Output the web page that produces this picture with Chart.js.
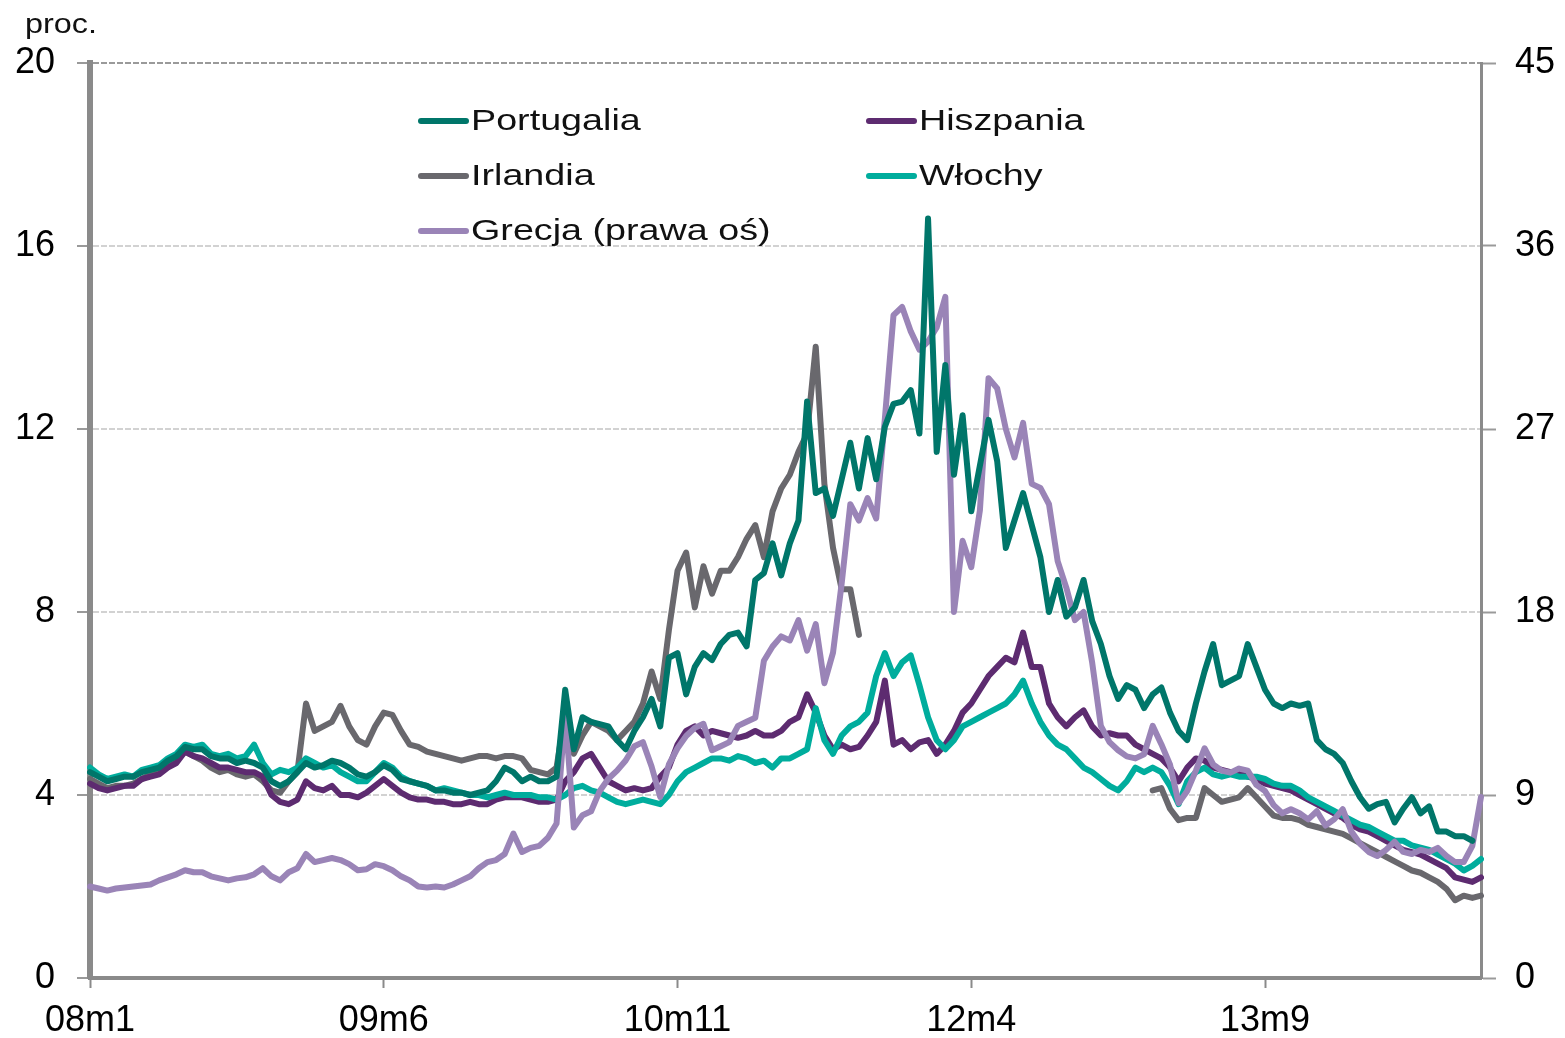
<!DOCTYPE html>
<html>
<head>
<meta charset="utf-8">
<script src="https://cdn.jsdelivr.net/npm/chart.js@4.4.1/dist/chart.umd.min.js"></script>
<style>
  body { margin: 0; background: #fff; }
  canvas { display: block; }
</style>
</head>
<body>
<canvas id="spreadChart" width="1565" height="1038"></canvas>
<script>
// rentowności obligacji 10-letnich, dane półmiesięczne od 08m1
const xTickIdx = [0, 34, 68, 102, 136];
const xTickLabels = ["08m1", "09m6", "10m11", "12m4", "13m9"];
const leftTicks = [0, 4, 8, 12, 16, 20];
const rightTicks = [0, 9, 18, 27, 36, 45];

const portugalia = [
  4.5,4.4,4.3,4.35,4.4,4.4,4.5,4.55,4.6,4.75,
  4.85,5.05,5.0,5.0,4.85,4.8,4.8,4.7,4.75,4.7,
  4.6,4.3,4.2,4.3,4.5,4.7,4.6,4.65,4.75,4.7,
  4.6,4.45,4.4,4.5,4.65,4.55,4.35,4.3,4.25,4.2,
  4.1,4.1,4.05,4.05,4.0,4.05,4.1,4.3,4.6,4.5,
  4.3,4.4,4.3,4.3,4.4,6.3,5.0,5.7,5.6,5.55,
  5.5,5.2,5.0,5.4,5.7,6.1,5.5,7.0,7.1,6.2,
  6.8,7.1,6.95,7.3,7.5,7.55,7.25,8.7,8.85,9.5,
  8.8,9.5,10.0,12.6,10.6,10.7,10.1,10.9,11.7,10.7,
  11.8,10.9,12.05,12.55,12.6,12.85,11.9,16.6,11.5,13.4,
  11.0,12.3,10.2,11.2,12.2,11.3,9.4,10.0,10.6,9.9,
  9.2,8.0,8.7,7.9,8.1,8.7,7.8,7.3,6.6,6.1,
  6.4,6.3,5.9,6.2,6.35,5.8,5.4,5.2,6.0,6.7,
  7.3,6.4,6.5,6.6,7.3,6.8,6.3,6.0,5.9,6.0,
  5.95,6.0,5.2,5.0,4.9,4.7,4.3,3.95,3.7,3.8,
  3.85,3.4,3.7,3.95,3.6,3.75,3.2,3.2,3.1,3.1,
  3.0,null
];

const hiszpania = [
  4.25,4.15,4.1,4.15,4.2,4.2,4.35,4.4,4.45,4.6,
  4.7,4.95,4.85,4.8,4.7,4.6,4.6,4.55,4.5,4.5,
  4.4,4.0,3.85,3.8,3.9,4.3,4.15,4.1,4.2,4.0,
  4.0,3.95,4.05,4.2,4.35,4.2,4.05,3.95,3.9,3.9,
  3.85,3.85,3.8,3.8,3.85,3.8,3.8,3.9,3.95,3.95,
  3.95,3.9,3.85,3.85,3.9,4.3,4.5,4.8,4.9,4.6,
  4.3,4.2,4.1,4.15,4.1,4.15,4.4,4.6,5.1,5.4,
  5.5,5.3,5.4,5.35,5.3,5.25,5.3,5.4,5.3,5.3,
  5.4,5.6,5.7,6.2,5.8,5.3,5.0,5.1,5.0,5.05,
  5.3,5.6,6.5,5.1,5.2,5.0,5.15,5.2,4.9,5.1,
  5.4,5.8,6.0,6.3,6.6,6.8,7.0,6.9,7.55,6.8,
  6.8,6.0,5.7,5.5,5.7,5.85,5.5,5.3,5.35,5.3,
  5.3,5.1,5.0,4.9,4.8,4.6,4.3,4.6,4.8,4.75,
  4.6,4.55,4.5,4.5,4.4,4.35,4.25,4.2,4.15,4.1,
  4.0,3.9,3.8,3.7,3.6,3.5,3.35,3.25,3.2,3.1,
  3.0,2.9,2.8,2.75,2.7,2.6,2.5,2.4,2.2,2.15,
  2.1,2.2
];

const irlandia = [
  4.35,4.25,4.15,4.2,4.2,4.25,4.35,4.45,4.5,4.65,
  4.75,4.95,4.85,4.75,4.6,4.5,4.55,4.45,4.4,4.45,
  4.3,4.1,4.05,4.3,4.5,6.0,5.4,5.5,5.6,5.95,
  5.5,5.2,5.1,5.5,5.8,5.75,5.4,5.1,5.05,4.95,
  4.9,4.85,4.8,4.75,4.8,4.85,4.85,4.8,4.85,4.85,
  4.8,4.55,4.5,4.45,4.6,5.8,4.9,5.3,5.6,5.5,
  5.4,5.2,5.4,5.6,6.0,6.7,6.1,7.6,8.9,9.3,
  8.1,9.0,8.4,8.9,8.9,9.2,9.6,9.9,9.2,10.2,
  10.7,11.0,11.5,11.9,13.8,10.8,9.4,8.5,8.5,7.5,
  null,null,null,null,null,null,null,null,null,null,
  null,null,null,null,null,null,null,null,null,null,
  null,null,null,null,null,null,null,null,null,null,
  null,null,null,4.1,4.15,3.7,3.45,3.5,3.5,4.15,
  4.0,3.85,3.9,3.95,4.15,3.95,3.75,3.55,3.5,3.5,
  3.45,3.35,3.3,3.25,3.2,3.15,3.05,2.95,2.85,2.75,
  2.65,2.55,2.45,2.35,2.3,2.2,2.1,1.95,1.7,1.8,
  1.75,1.8
];

const wlochy = [
  4.6,4.45,4.35,4.4,4.45,4.4,4.55,4.6,4.65,4.8,
  4.9,5.1,5.05,5.1,4.9,4.85,4.9,4.8,4.85,5.1,
  4.7,4.45,4.55,4.5,4.6,4.8,4.7,4.6,4.65,4.5,
  4.4,4.3,4.3,4.5,4.7,4.6,4.4,4.3,4.25,4.2,
  4.1,4.15,4.1,4.05,4.0,4.0,3.95,4.0,4.05,4.0,
  4.0,4.0,3.95,3.95,3.9,4.0,4.15,4.2,4.1,4.05,
  3.95,3.85,3.8,3.85,3.9,3.85,3.8,4.0,4.3,4.5,
  4.6,4.7,4.8,4.8,4.75,4.85,4.8,4.7,4.75,4.6,
  4.8,4.8,4.9,5.0,5.9,5.2,4.9,5.3,5.5,5.6,
  5.8,6.6,7.1,6.6,6.9,7.05,6.4,5.7,5.2,5.0,
  5.2,5.5,5.6,5.7,5.8,5.9,6.0,6.2,6.5,6.0,
  5.6,5.3,5.1,5.0,4.8,4.6,4.5,4.35,4.2,4.1,
  4.3,4.6,4.5,4.6,4.5,4.2,3.8,4.3,4.5,4.6,
  4.45,4.4,4.45,4.4,4.4,4.4,4.35,4.25,4.2,4.2,
  4.1,3.95,3.85,3.75,3.65,3.55,3.45,3.35,3.3,3.2,
  3.1,3.0,3.0,2.9,2.85,2.8,2.7,2.6,2.5,2.35,
  2.45,2.6
];

// prawa oś
const grecja = [
  4.5,4.4,4.3,4.4,4.45,4.5,4.55,4.6,4.8,4.95,
  5.1,5.3,5.2,5.2,5.0,4.9,4.8,4.9,4.95,5.1,
  5.4,5.0,4.8,5.2,5.4,6.1,5.7,5.8,5.9,5.8,
  5.6,5.3,5.35,5.6,5.5,5.3,5.0,4.8,4.5,4.45,
  4.5,4.45,4.6,4.8,5.0,5.4,5.7,5.8,6.1,7.1,
  6.2,6.4,6.5,6.9,7.6,13.0,7.4,8.0,8.2,9.2,
  9.8,10.2,10.7,11.4,11.6,10.4,8.9,10.5,11.3,11.9,
  12.3,12.5,11.2,11.4,11.6,12.4,12.6,12.8,15.6,16.3,
  16.8,16.6,17.6,16.1,17.4,14.5,16.0,19.4,23.3,22.5,
  23.6,22.6,27.5,32.6,33.0,31.8,30.9,31.3,32.0,33.5,
  18.0,21.5,20.2,23.0,29.5,29.0,27.0,25.6,27.3,24.3,
  24.1,23.3,20.5,19.2,17.6,18.0,15.5,12.4,11.6,11.2,
  10.9,10.8,11.0,12.4,11.5,10.5,8.6,9.2,10.2,11.3,
  10.5,10.2,10.1,10.3,10.2,9.5,9.2,8.5,8.1,8.3,
  8.1,7.8,8.2,7.5,7.8,8.3,7.2,6.6,6.2,6.0,
  6.3,6.7,6.2,6.1,6.3,6.2,6.4,6.0,5.7,5.7,
  6.5,8.9
];

// etykiety półmiesięczne (dwie na miesiąc)
const labels = [];
for (let i = 0; i < grecja.length; i++) {
    const m = Math.floor(i / 2);
    const yr = 8 + Math.floor(m / 12);
    labels.push(String(yr).padStart(2, "0") + "m" + (m % 12 + 1));
}

const tickFont = { family: "'Liberation Sans', Arial, sans-serif", size: 36 };

function serie(label, data, color, axis) {
    return {
        label: label,
        data: data,
        yAxisID: axis,
        borderColor: color,
        backgroundColor: color,
        borderWidth: 6,
        pointRadius: 0,
        tension: 0,
        spanGaps: false,
        borderJoinStyle: "round",
        borderCapStyle: "round"
    };
}

// legenda rysowana ręcznie (dwie kolumny wewnątrz wykresu)
const legendItems = [
    { text: "Portugalia", color: "#00766a", x: 418, y: 121 },
    { text: "Irlandia", color: "#69686d", x: 418, y: 176 },
    { text: "Grecja (prawa oś)", color: "#9a84b7", x: 418, y: 231 },
    { text: "Hiszpania", color: "#5d2b70", x: 866, y: 121 },
    { text: "Włochy", color: "#00ad9d", x: 866, y: 176 }
];

const legendPlugin = {
    id: "legendaReczna",
    afterDraw(chart) {
        const ctx = chart.ctx;
        ctx.save();
        legendItems.forEach(item => {
            ctx.strokeStyle = item.color;
            ctx.lineWidth = 6;
            ctx.lineCap = "round";
            ctx.beginPath();
            ctx.moveTo(item.x + 3, item.y);
            ctx.lineTo(item.x + 48, item.y);
            ctx.stroke();
            // tekst rozciągnięty poziomo jak w oryginale
            ctx.save();
            ctx.translate(item.x + 53, item.y + 1);
            ctx.scale(1.3, 1);
            ctx.fillStyle = "#111";
            ctx.font = "29px 'Liberation Sans', Arial, sans-serif";
            ctx.textBaseline = "middle";
            ctx.textAlign = "left";
            ctx.fillText(item.text, 0, 0);
            ctx.restore();
        });
        ctx.save();
        ctx.translate(25, 33);
        ctx.scale(1.2, 1);
        ctx.font = "27px 'Liberation Sans', Arial, sans-serif";
        ctx.fillStyle = "#111";
        ctx.textBaseline = "alphabetic";
        ctx.fillText("proc.", 0, 0);
        ctx.restore();
        ctx.restore();
    }
};

const ctx = document.getElementById("spreadChart");
new Chart(ctx, {
    type: "line",
    data: {
        labels: labels,
        datasets: [
            serie("Portugalia", portugalia, "#00766a", "y"),
            serie("Grecja (prawa oś)", grecja, "#9a84b7", "y1"),
            serie("Włochy", wlochy, "#00ad9d", "y"),
            serie("Hiszpania", hiszpania, "#5d2b70", "y"),
            serie("Irlandia", irlandia, "#69686d", "y")
        ]
    },
    options: {
        responsive: false,
        animation: false,
        layout: { padding: { top: 63, left: 0, right: 0, bottom: 0 } },
        plugins: {
            legend: { display: false },
            tooltip: { enabled: false }
        },
        scales: {
            x: {
                type: "category",
                offset: false,
                afterBuildTicks: function(scale) {
                    scale.ticks = xTickIdx.map(v => ({ value: v }));
                },
                afterFit: function(scale) { scale.height = 60; },
                ticks: {
                    autoSkip: false,
                    maxRotation: 0,
                    padding: 11,
                    color: "#000",
                    font: tickFont,
                    callback: function(value, index) {
                        return xTickLabels[index];
                    }
                },
                grid: {
                    drawOnChartArea: false,
                    drawTicks: true,
                    tickLength: 10,
                    tickColor: "#8a8a8a",
                    tickWidth: 2
                },
                border: { color: "#8a8a8a", width: 4 }
            },
            y: {
                position: "left",
                min: 0,
                max: 20,
                afterBuildTicks: function(scale) {
                    scale.ticks = leftTicks.map(v => ({ value: v }));
                },
                afterFit: function(scale) { scale.width = 90; },
                ticks: {
                    padding: 22,
                    color: "#000",
                    font: tickFont
                },
                grid: {
                    color: function(c) { return c.tick && c.tick.value === 20 ? "#9a9a9a" : "#d2d2d2"; },
                    lineWidth: 2,
                    tickLength: 13,
                    tickColor: "#9a9a9a",
                    tickWidth: 2
                },
                border: { color: "#8a8a8a", width: 6, dash: [6, 2] }
            },
            y1: {
                position: "right",
                min: 0,
                max: 45,
                afterBuildTicks: function(scale) {
                    scale.ticks = rightTicks.map(v => ({ value: v }));
                },
                afterFit: function(scale) { scale.width = 84; },
                ticks: {
                    padding: 19,
                    color: "#000",
                    font: tickFont
                },
                grid: {
                    drawOnChartArea: false,
                    tickLength: 15,
                    tickColor: "#9a9a9a",
                    tickWidth: 2
                },
                border: { color: "#8a8a8a", width: 3 }
            }
        }
    },
    plugins: [legendPlugin]
});
</script>
</body>
</html>
